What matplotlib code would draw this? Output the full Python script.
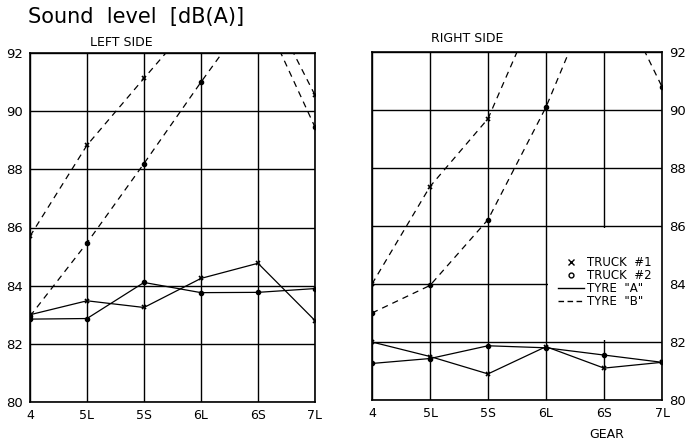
import numpy as np
import matplotlib
matplotlib.use("Agg")
import matplotlib.pyplot as plt
from matplotlib.lines import Line2D
from matplotlib.patches import Rectangle

gears = ['4', '5L', '5S', '6L', '6S', '7L']
yticks = [80, 82, 84, 86, 88, 90, 92]

# left side
left_t1_a = [83.0, 83.48, 83.25, 84.25, 84.77, 82.8]
left_t2_a = [82.85, 82.87, 84.11, 83.76, 83.77, 83.9]
left_t1_b = [85.7, 88.83, 91.13, 93.4, 94.4, 90.55]
left_t2_b = [82.95, 85.47, 88.2, 91.0, 93.7, 89.45]

# right side
right_t1_a = [82.0, 81.5, 80.9, 81.84, 81.1, 81.3]
right_t2_a = [81.26, 81.43, 81.87, 81.8, 81.55, 81.3]
right_t1_b = [84.0, 87.36, 89.7, 94.3, np.nan, np.nan]
right_t2_b = [83.0, 83.95, 86.22, 90.1, 94.9, 90.8]

plt.rcParams['font.family'] = ['DejaVu Sans']

fig = plt.figure(figsize=(6.88, 4.41), dpi=100)
axL = fig.add_axes([30/688, 1-402/441, 285/688, 349/441])
axR = fig.add_axes([372/688, 1-400/441, 290/688, 348/441])

x = np.arange(len(gears))
lw = 0.9

def setup(ax):
    ax.set_xlim(0, len(gears) - 1)
    ax.set_ylim(80, 92)
    ax.set_xticks(x)
    ax.set_xticklabels(gears, fontsize=9)
    ax.set_yticks(yticks)
    ax.set_yticklabels([str(v) for v in yticks], fontsize=9.5)
    ax.tick_params(length=0, pad=5)
    ax.grid(True, color='black', lw=1.0)
    ax.set_axisbelow(True)
    for s in ax.spines.values():
        s.set_linewidth(1.2)

def draw(ax, t1a, t2a, t1b, t2b):
    ax.plot(x, t1a, color='black', lw=lw, marker='x', ms=3.5, mew=1.2, zorder=3)
    ax.plot(x, t2a, color='black', lw=lw, marker='o', ms=3, zorder=3)
    ax.plot(x, t1b, color='black', lw=lw, ls=(0, (5, 4)), marker='x', ms=3.5, mew=1.2, zorder=3)
    ax.plot(x, t2b, color='black', lw=lw, ls=(0, (5, 4)), marker='o', ms=3, zorder=3)

setup(axL)
setup(axR)
axR.yaxis.tick_right()
draw(axL, left_t1_a, left_t2_a, left_t1_b, left_t2_b)
draw(axR, right_t1_a, right_t2_a, right_t1_b, right_t2_b)

# white box behind legend
axR.add_patch(Rectangle((3.03, 82.06), 1.97, 3.88, facecolor='white', edgecolor='none', zorder=1))

handles = [
    Line2D([], [], color='black', marker='x', ls='none', ms=4),
    Line2D([], [], color='black', marker='o', ls='none', ms=3.5, mfc='none'),
    Line2D([], [], color='black', lw=1.0),
    Line2D([], [], color='black', lw=1.0, ls=(0, (4, 2.5))),
]
labels = ['TRUCK  #1', 'TRUCK  #2', 'TYRE  "A"', 'TYRE  "B"']
axR.legend(handles, labels, loc='center right', bbox_to_anchor=(0.985, 0.34),
           frameon=False, fontsize=8.5, handlelength=2.2, handletextpad=0.3,
           labelspacing=0.0, borderpad=0)

axR.set_xlabel('GEAR', fontsize=9)
axR.xaxis.set_label_coords(0.81, -0.08)

fig.text(28/688, 1-17/441, 'Sound  level  [dB(A)]', fontsize=15, va='center', ha='left')
fig.text(121/688, 1-42/441, 'LEFT SIDE', fontsize=9, va='center', ha='center')
fig.text(467/688, 1-39/441, 'RIGHT SIDE', fontsize=9, va='center', ha='center')

fig.savefig('out.png', dpi=100)
